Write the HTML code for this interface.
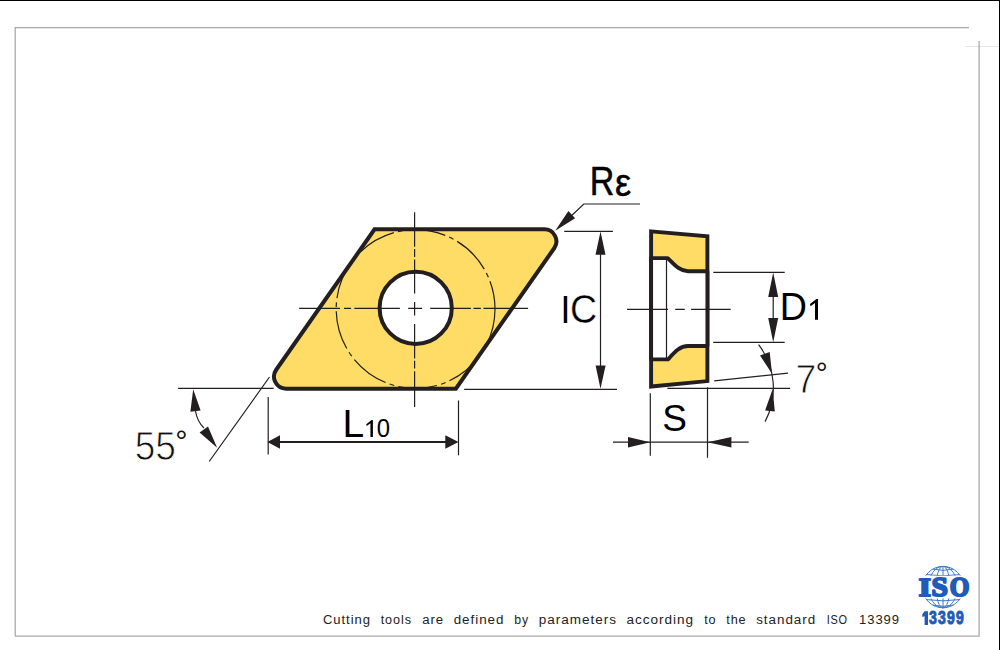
<!DOCTYPE html>
<html><head><meta charset="utf-8">
<style>
html,body{margin:0;padding:0;background:#fff;width:1000px;height:650px;overflow:hidden}
svg{display:block;position:absolute;left:0;top:0}
text{font-family:"Liberation Sans",sans-serif}
</style></head><body>
<svg width="1000" height="650" viewBox="0 0 1000 650">
<!-- window frame -->
<rect x="0" y="0" width="1000" height="1" fill="#000"/>
<rect x="999" y="0" width="1" height="650" fill="#000"/>
<!-- grey page border -->
<path d="M15.2 636.1 V27.6 H969" fill="none" stroke="#a9a9a9" stroke-width="1.3"/>
<path d="M965 46.5 H999" fill="none" stroke="#e0e0e0" stroke-width="0.8"/>
<path d="M979.1 41 V636.1 H15" fill="none" stroke="#a9a9a9" stroke-width="1.3"/>

<g stroke="#231f20" fill="none" stroke-linecap="butt">
<!-- rhombus -->
<path id="rh" d="M374.52 229.35 H544.37 A12 12 0 0 1 554.20 248.23 L455.88 388.65 H286.03 A12 12 0 0 1 276.20 369.77 Z" fill="#fedc66" stroke-width="4" stroke-linejoin="miter"/>
<!-- inscribed dashed circle -->
<circle cx="415.6" cy="309" r="79.4" stroke-width="1.2" stroke-dasharray="39 4.3 4.8 4.3" stroke-dashoffset="1.9"/>
<!-- hole -->
<circle cx="415.7" cy="307.9" r="36.1" fill="#fff" stroke-width="4"/>
<!-- centre lines rhombus -->
<path stroke-width="1.2" d="M414.6 212.3V246.7M414.6 249V257M414.6 259.4V293.5M414.6 302V315.6M414.6 324V358.5M414.6 360.7V368.6M414.6 371.2V407.1"/>
<path stroke-width="1.2" d="M299.1 308.3H340M344 308.3H351.1M354.4 308.3H399.9M408.2 308.3H422M430.2 308.3H470.9M473.5 308.3H480.9M483.5 308.3H528.1"/>

<!-- IC extension lines -->
<path stroke-width="1.2" d="M564.2 231.4H612.9M464.2 389.4H617"/>
<!-- IC dimension -->
<path stroke-width="1.2" d="M600.5 250V370"/>
<path fill="#231f20" stroke="none" d="M600.5 231.6L605.5 254.8H595.5Z M600.5 388.7L605.6 365.4H595.6Z"/>

<!-- R epsilon leader -->
<path stroke-width="1.2" d="M640 204H583.8L568 219"/>
<path fill="#231f20" stroke="none" d="M555.2 230.7L568.4 211.1L575.1 218.2Z"/>

<!-- 55 deg -->
<path stroke-width="1.2" d="M178.1 388.4H273.6M269.5 377L209.2 461.5"/>
<path stroke-width="1.2" d="M195.5 411 Q197 421 203.9 428"/>
<path fill="#231f20" stroke="none" d="M193.2 389.2L200.6 410.5L190.4 411.7Z M217.1 447.7L199.6 432.6L208 426.5Z"/>

<!-- L10 -->
<path stroke-width="1.2" d="M268.2 397V454.6M458.5 400.4V455.2"/>
<path stroke-width="2" d="M278 442H447"/>
<path fill="#231f20" stroke="none" d="M267.4 442L280 435.3V448.7Z M458.5 442L445.3 435.3V448.7Z"/>

<!-- side view -->
<path d="M651.1 231.4L707.4 236.2V381.1L651.1 386.5Z" fill="#fedc66" stroke-width="3.9" stroke-linejoin="miter"/>
<path d="M651.1 258.1H667.7C673 263 679 271.2 688 271.2H707.4V346H688C679 346 673 354 668 359.4H651.1Z" fill="#fff" stroke-width="3.9" stroke-linejoin="round"/>
<path stroke-width="1.2" d="M666.5 259V359"/>
<!-- side center line -->
<path stroke-width="1.2" d="M627 309.4H668M675.2 309.4H684.8M691.1 309.4H730.7"/>
<!-- D1 -->
<path stroke-width="1.2" d="M713.3 272.3H784.7M713.2 342.3H784.7M773.2 292V322"/>
<path fill="#231f20" stroke="none" d="M773.2 272.5L778.2 297H768.2Z M773.2 342.2L778.2 318H768.2Z"/>
<!-- 7 deg -->
<path stroke-width="1.2" d="M714.2 380.8L788 373.2M667.4 388.4H790"/>
<path stroke-width="1.2" d="M758.6 344.7A71.5 71.5 0 0 1 765.1 421.6"/>
<path fill="#231f20" stroke="none" d="M772 373.8L760 355.5L769.7 351.9Z M772.7 389L774.8 411.5L765.1 410.5Z"/>
<!-- S -->
<path stroke-width="1.2" d="M650.3 393.2V455.7M707.5 387.2V457.7M613 442.2H748.7"/>
<path fill="#231f20" stroke="none" d="M650.3 442.2L628 436.9V447.5Z M707.5 442.2L731.4 436.9V447.5Z"/>
</g>

<text transform="matrix(0.8330 0 0 1 589.76 195.45)" font-size="40.84" style="font-family:'Liberation Sans'" font-weight="normal" fill="#000"  stroke="#000" stroke-width="0.5" stroke-linejoin="round">R</text>
<text transform="matrix(0.9174 0 0 1 615.11 195.66)" font-size="39.43" style="font-family:'Liberation Sans'" font-weight="normal" fill="#000"  stroke="#000" stroke-width="0.5" stroke-linejoin="round">ε</text>
<text transform="matrix(0.9016 0 0 1 560.43 322.90)" font-size="39.24" style="font-family:'Liberation Sans'" font-weight="normal" fill="#000" >I</text>
<text transform="matrix(0.9435 0 0 1 569.89 323.11)" font-size="39.83" style="font-family:'Liberation Sans'" font-weight="normal" fill="#000"  stroke="#fff" stroke-width="0.4">C</text>
<text transform="matrix(0.9665 0 0 1 779.81 319.80)" font-size="38.95" style="font-family:'Liberation Sans'" font-weight="normal" fill="#000" >D</text>
<text transform="matrix(0.9923 0 0 1 662.22 431.34)" font-size="37.29" style="font-family:'Liberation Sans'" font-weight="normal" fill="#000" >S</text>
<text transform="matrix(0.9903 0 0 1 342.50 437.00)" font-size="39.39" style="font-family:'Liberation Sans'" font-weight="normal" fill="#000" >L</text>
<text transform="matrix(0.9539 0 0 1 376.87 437.16)" font-size="25.00" style="font-family:'Liberation Sans'" font-weight="normal" fill="#000" >0</text>
<text transform="matrix(0.9123 0 0 1 795.43 393.15)" font-size="40.99" style="font-family:'Liberation Sans'" font-weight="normal" fill="#111"  stroke="#fff" stroke-width="0.9">7</text>
<text transform="matrix(1.0427 0 0 1 815.81 382.87)" font-size="28.74" style="font-family:'Liberation Sans'" font-weight="normal" fill="#111" >°</text>
<text transform="matrix(0.9264 0 0 1 134.87 459.86)" font-size="39.84" style="font-family:'Liberation Sans'" font-weight="normal" fill="#111"  stroke="#fff" stroke-width="0.9">5</text>
<text transform="matrix(0.9317 0 0 1 155.16 459.86)" font-size="39.84" style="font-family:'Liberation Sans'" font-weight="normal" fill="#111"  stroke="#fff" stroke-width="0.9">5</text>
<text transform="matrix(1.0415 0 0 1 175.27 450.57)" font-size="29.46" style="font-family:'Liberation Sans'" font-weight="normal" fill="#111" >°</text>
<path fill="#000" d="M816.40 299.00 L818.00 299.00 L818.00 319.80 L815.00 319.80 L815.00 302.95 L810.48 306.28 L810.00 304.10 Z"/>
<path fill="#000" d="M371.58 420.00 L372.90 420.00 L372.90 437.00 L370.43 437.00 L370.43 423.23 L366.70 425.95 L366.30 424.17 Z"/>

<!-- footer -->
<g fill="#222" font-size="12.5" letter-spacing="0.9">
<text x="323" y="624.3" textLength="47.9" lengthAdjust="spacingAndGlyphs">Cutting</text>
<text x="380.7" y="624.3" textLength="31.2" lengthAdjust="spacingAndGlyphs">tools</text>
<text x="422.2" y="624.3" textLength="21.9" lengthAdjust="spacingAndGlyphs">are</text>
<text x="453.7" y="624.3" textLength="50.7" lengthAdjust="spacingAndGlyphs">defined</text>
<text x="514.3" y="624.3" textLength="14.8" lengthAdjust="spacingAndGlyphs">by</text>
<text x="538.7" y="624.3" textLength="78.2" lengthAdjust="spacingAndGlyphs">parameters</text>
<text x="626.5" y="624.3" textLength="67.6" lengthAdjust="spacingAndGlyphs">according</text>
<text x="704.2" y="624.3" textLength="12.4" lengthAdjust="spacingAndGlyphs">to</text>
<text x="726.2" y="624.3" textLength="20.4" lengthAdjust="spacingAndGlyphs">the</text>
<text x="756.2" y="624.3" textLength="59.9" lengthAdjust="spacingAndGlyphs">standard</text>
<text x="826.7" y="624.3" textLength="21.2" lengthAdjust="spacingAndGlyphs">ISO</text>
<text x="859" y="624.3" textLength="41.0" lengthAdjust="spacingAndGlyphs">13399</text>
</g>

<g stroke="#3f78cc" fill="none" stroke-width="1">
<circle cx="943" cy="587.1" r="20.7"/>
<ellipse cx="943" cy="587.1" rx="7.038" ry="20.7"/>
<ellipse cx="943" cy="587.1" rx="14.49" ry="20.7"/>
<path d="M943 566.4 V607.8"/>
<path d="M932.78 569.10 Q943.00 571.60 953.22 569.10"/>
<path d="M926.50 574.60 Q943.00 577.10 959.50 574.60"/>
<path d="M926.50 599.60 Q943.00 602.10 959.50 599.60"/>
<path d="M932.78 605.10 Q943.00 607.60 953.22 605.10"/>
</g>
<rect x="916" y="575.8" width="55" height="22.6" fill="#fff"/>
<text transform="matrix(1.2041 0 0 1 918.85 595.60)" font-size="25.81" style="font-family:'Liberation Serif'" font-weight="bold" fill="#1f5bb8"  stroke="#1f5bb8" stroke-width="2" stroke-linejoin="round">I</text>
<text transform="matrix(1.1212 0 0 1 931.53 595.74)" font-size="26.34" style="font-family:'Liberation Serif'" font-weight="bold" fill="#1f5bb8"  stroke="#1f5bb8" stroke-width="2" stroke-linejoin="round">S</text>
<text transform="matrix(0.9599 0 0 1 949.87 595.74)" font-size="26.34" style="font-family:'Liberation Serif'" font-weight="bold" fill="#1f5bb8"  stroke="#1f5bb8" stroke-width="2" stroke-linejoin="round">O</text>
<path fill="#1f5bb8" d="M924.6 611.3 H928 V625 H924.6 V616.2 L922.3 617 V614.2 Z"/>
<text transform="matrix(0.7686 0 0 1 928.93 624.39)" font-size="18.32" style="font-family:'Liberation Sans'" font-weight="bold" fill="#1f5bb8"  stroke="#1f5bb8" stroke-width="1" stroke-linejoin="round">3</text>
<text transform="matrix(0.7686 0 0 1 937.93 624.39)" font-size="18.32" style="font-family:'Liberation Sans'" font-weight="bold" fill="#1f5bb8"  stroke="#1f5bb8" stroke-width="1" stroke-linejoin="round">3</text>
<text transform="matrix(0.7590 0 0 1 947.02 624.42)" font-size="18.36" style="font-family:'Liberation Sans'" font-weight="bold" fill="#1f5bb8"  stroke="#1f5bb8" stroke-width="1" stroke-linejoin="round">9</text>
<text transform="matrix(0.7590 0 0 1 956.02 624.42)" font-size="18.36" style="font-family:'Liberation Sans'" font-weight="bold" fill="#1f5bb8"  stroke="#1f5bb8" stroke-width="1" stroke-linejoin="round">9</text>
</svg>
</body></html>
